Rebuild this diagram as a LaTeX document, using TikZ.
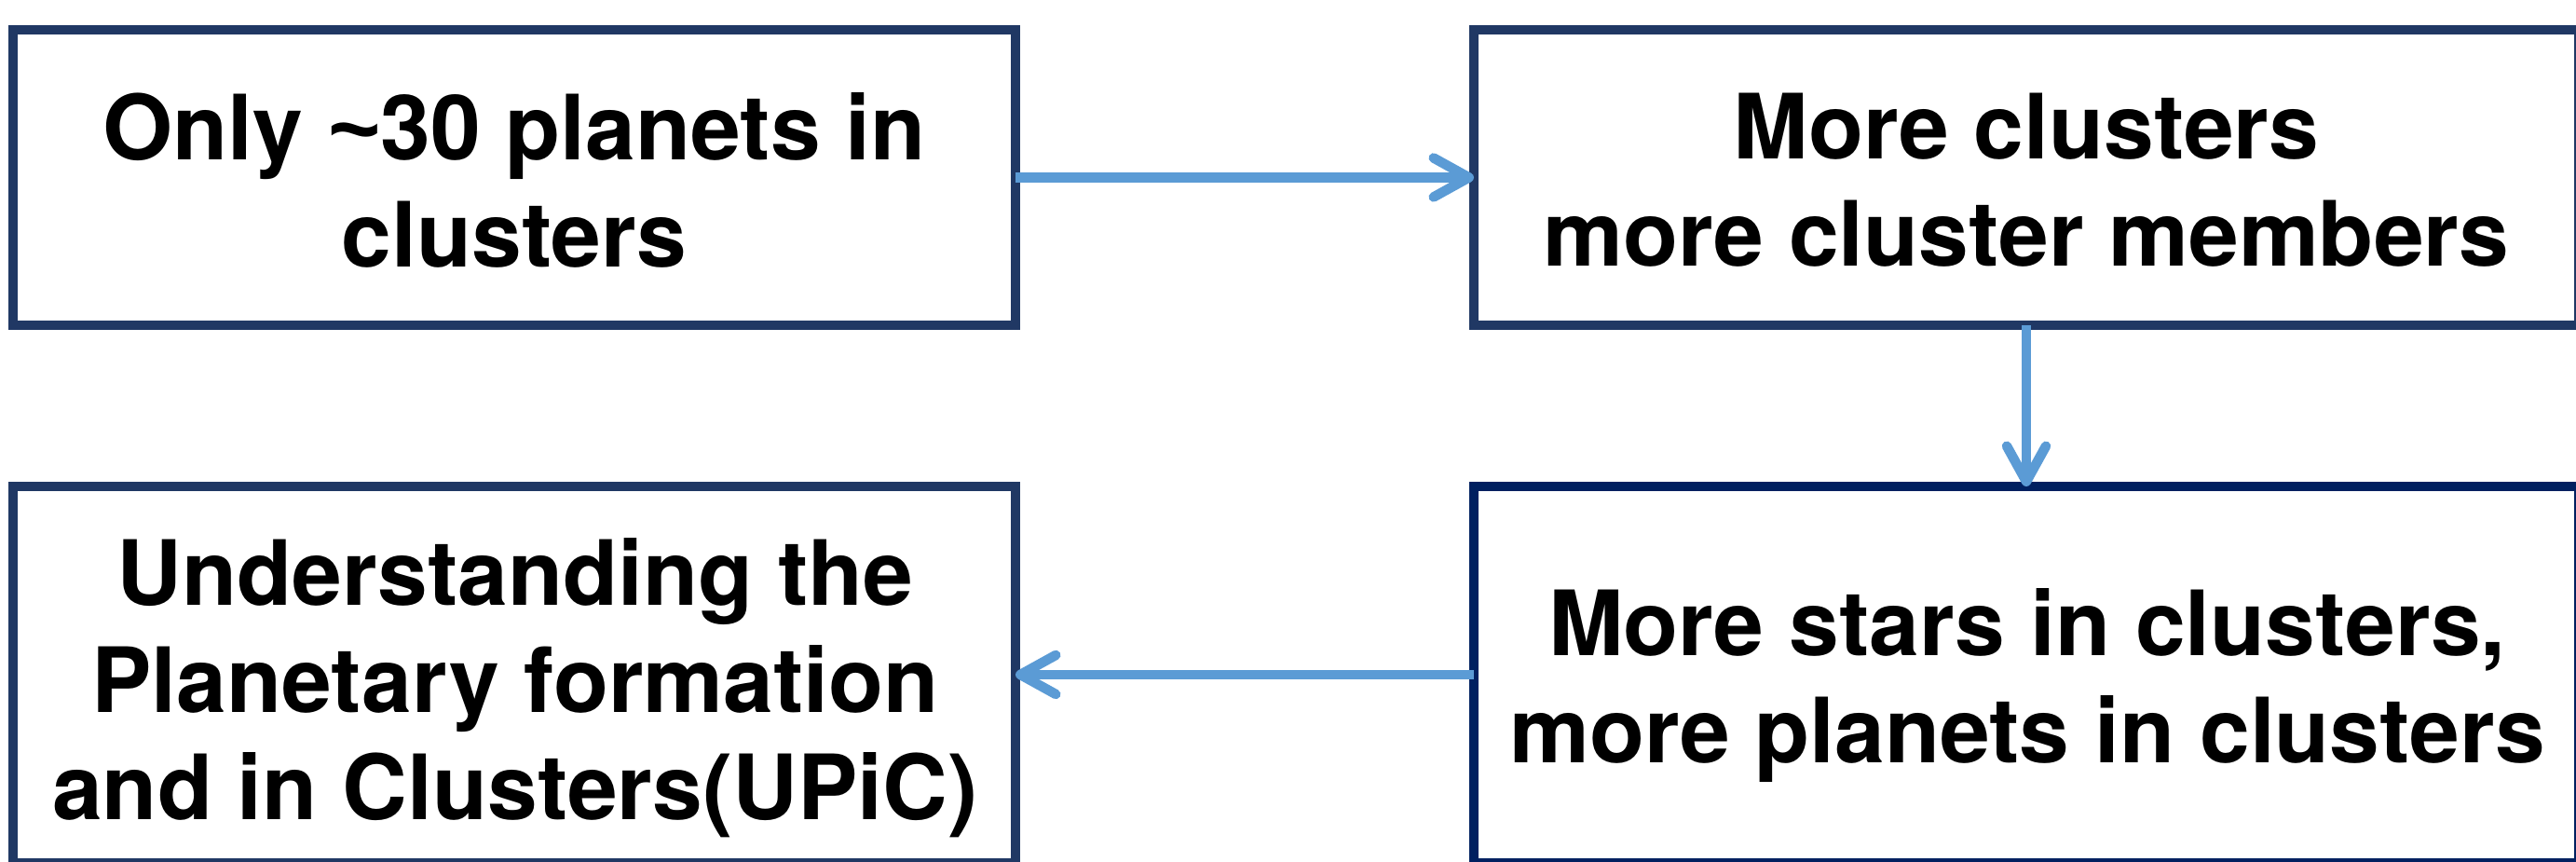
\documentclass[tikz,border=0pt]{standalone}
\usepackage{fontspec}
\setmainfont{TeX Gyre Heros}
\newfontfamily\tildefont{Liberation Sans}
\usetikzlibrary{arrows.meta}
\definecolor{boxblue}{HTML}{203864}
\definecolor{boxnavy}{HTML}{002060}
\definecolor{arrowblue}{HTML}{5B9BD5}
\tikzset{
  box/.style={draw=boxblue, line width=0.1cm, rectangle, outer sep=0pt, inner sep=0pt},
  label/.style={align=center, inner sep=0pt, font=\fontsize{27.5pt}{32.7pt}\selectfont\bfseries},
  flow/.style={draw=arrowblue, line width=0.105cm,
    -{Straight Barb[length=0.38cm, width=0.42cm, line cap=round, line join=round]}}
}
\begin{document}
\begin{tikzpicture}
\useasboundingbox (0,0) rectangle (27.65,9.25);
\clip (0,0) rectangle (27.65,9.25);
% boxes
\node[box, minimum width=10.76cm, minimum height=3.17cm] (b1) at (5.52,7.345) {};
\node[box, minimum width=11.86cm, minimum height=3.17cm] (b2) at (21.75,7.345) {};
\node[box, minimum width=10.76cm, minimum height=4.04cm] (b3) at (5.52,2.01) {};
\node[box, draw=boxnavy, minimum width=11.86cm, minimum height=4.04cm] (b4) at (21.75,2.01) {};
% texts
\node[label] (t1) at (5.52,7.32) {Only {\tildefont\textasciitilde}30 planets in\\clusters};
\node[label] (t2) at (21.75,7.32) {More clusters\\more cluster members};
\node[label] (t3) at (5.53,1.87) {Understanding the\\Planetary formation\\and in Clusters(UPiC)};
\node[label] (t4) at (21.76,1.89) {More stars in clusters,\\more planets in clusters};
% connectors
\draw[flow] (b1.east) -- (b2.west);
\draw[flow] (b2.south) -- (b4.north);
\draw[flow] (b4.west) -- (b3.east);
\end{tikzpicture}
\end{document}
